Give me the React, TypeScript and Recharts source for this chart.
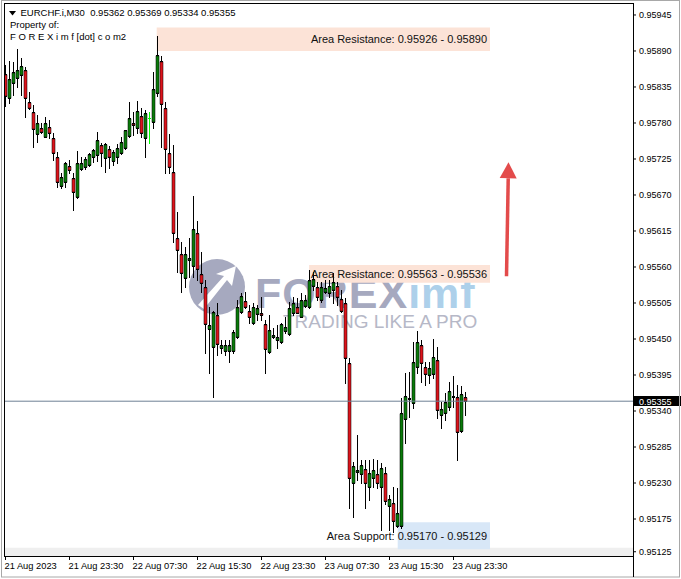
import React from "react";
import {
  ComposedChart,
  Bar,
  XAxis,
  YAxis,
  ReferenceArea,
  ReferenceLine,
} from "recharts";

const FONT = '"Liberation Sans", Arial, sans-serif';

// EURCHF M30, one entry per bar, oldest first (21 Aug 15:30 -> 24 Aug 01:00)
const opens = [
  0.95855, 0.95818, 0.95841, 0.95849, 0.95853, 0.95861, 0.95812, 0.95797, 0.95763, 0.95772,
  0.95759, 0.95774, 0.95757, 0.95728, 0.95684, 0.9569, 0.95714, 0.95696, 0.95667, 0.9571,
  0.95713, 0.95716, 0.95728, 0.95731, 0.95746, 0.95726, 0.9574, 0.95722, 0.95728, 0.95734,
  0.95742, 0.9576, 0.9578, 0.95772, 0.95791, 0.95757, 0.95788, 0.95781, 0.95826, 0.95875,
  0.95803, 0.95734, 0.95705, 0.95604, 0.9558, 0.95543, 0.95571, 0.95562, 0.95612, 0.95549,
  0.95529, 0.95465, 0.95438, 0.95487, 0.95436, 0.95432, 0.95432, 0.95432, 0.95453, 0.95491,
  0.95508, 0.95493, 0.95474, 0.95488, 0.9549, 0.95473, 0.9543, 0.95453, 0.95448, 0.95445,
  0.95462, 0.95458, 0.9549, 0.95499, 0.95484, 0.955, 0.95499, 0.95531, 0.95529, 0.9551,
  0.95522, 0.9552, 0.95525, 0.95531, 0.95511, 0.95505, 0.95413, 0.9523, 0.95247, 0.95244,
  0.95251, 0.95224, 0.95237, 0.95244, 0.95224, 0.95245, 0.95195, 0.95199, 0.95164, 0.95164,
  0.95328, 0.95358, 0.95352, 0.95407, 0.95441, 0.95407, 0.95395, 0.95396, 0.95418, 0.95334,
  0.95337, 0.95346, 0.95361, 0.95361, 0.95309, 0.95362,
];

const highs = [
  0.95869, 0.95875, 0.95873, 0.95893, 0.95879, 0.95866, 0.95827, 0.95807, 0.95792, 0.9578,
  0.95789, 0.95785, 0.95765, 0.95736, 0.95704, 0.9572, 0.95723, 0.95704, 0.95737, 0.95728,
  0.95728, 0.95734, 0.9574, 0.95766, 0.95749, 0.95749, 0.95745, 0.95739, 0.95748, 0.95759,
  0.9577, 0.95812, 0.95797, 0.95814, 0.95803, 0.958, 0.95797, 0.95858, 0.95913, 0.95882,
  0.95812, 0.95763, 0.95746, 0.95644, 0.95598, 0.95591, 0.95604, 0.95668, 0.9563, 0.95583,
  0.9554, 0.95499, 0.95493, 0.95505, 0.95448, 0.95448, 0.95448, 0.95464, 0.9551, 0.9552,
  0.95522, 0.95502, 0.95505, 0.95502, 0.95514, 0.95479, 0.95487, 0.95467, 0.95471, 0.95474,
  0.95484, 0.95506, 0.95514, 0.95513, 0.9552, 0.95517, 0.95555, 0.95553, 0.95537, 0.95537,
  0.9554, 0.9554, 0.95551, 0.95537, 0.95525, 0.95513, 0.95421, 0.95262, 0.95303, 0.95265,
  0.95265, 0.95265, 0.95266, 0.95265, 0.9526, 0.95254, 0.95211, 0.95224, 0.95222, 0.9536,
  0.95398, 0.954, 0.95445, 0.95462, 0.95448, 0.95415, 0.95415, 0.9545, 0.95438, 0.95354,
  0.95367, 0.95384, 0.95393, 0.9538, 0.95378, 0.95369,
];

const lows = [
  0.95806, 0.95811, 0.95823, 0.95835, 0.95823, 0.95789, 0.95802, 0.95743, 0.95751, 0.95765,
  0.95758, 0.95757, 0.95723, 0.95682, 0.95681, 0.95682, 0.95704, 0.95647, 0.95666, 0.95708,
  0.9571, 0.95714, 0.9572, 0.95722, 0.95714, 0.95705, 0.95711, 0.95716, 0.95719, 0.95733,
  0.9574, 0.95759, 0.95762, 0.95765, 0.95759, 0.95728, 0.95749, 0.95772, 0.95821, 0.95743,
  0.95704, 0.95704, 0.95598, 0.95552, 0.95522, 0.95529, 0.95545, 0.95545, 0.9554, 0.95522,
  0.95429, 0.95398, 0.95361, 0.95425, 0.95429, 0.95425, 0.95415, 0.95429, 0.95451, 0.9549,
  0.95497, 0.95474, 0.95473, 0.95479, 0.95479, 0.95398, 0.95429, 0.95451, 0.95436, 0.95444,
  0.95459, 0.95456, 0.95487, 0.95489, 0.95483, 0.95499, 0.95498, 0.95525, 0.9551, 0.95506,
  0.9552, 0.95514, 0.95505, 0.95502, 0.95491, 0.95383, 0.95192, 0.95178, 0.95234, 0.9523,
  0.95192, 0.95204, 0.95224, 0.95222, 0.95158, 0.95198, 0.95158, 0.95155, 0.95163, 0.95161,
  0.95291, 0.95331, 0.95345, 0.95398, 0.95384, 0.9538, 0.95383, 0.9539, 0.95329, 0.95314,
  0.95326, 0.95341, 0.95346, 0.95265, 0.95308, 0.95334,
];

const closes = [
  0.95821, 0.95847, 0.95858, 0.95861, 0.95867, 0.95818, 0.95803, 0.95771, 0.9578, 0.95766,
  0.9578, 0.95765, 0.95734, 0.9569, 0.95697, 0.95719, 0.95708, 0.95675, 0.95719, 0.95719,
  0.95725, 0.95733, 0.95739, 0.95754, 0.95734, 0.95748, 0.95728, 0.95736, 0.95742, 0.95751,
  0.95769, 0.95788, 0.95777, 0.95798, 0.95765, 0.95795, 0.95788, 0.95832, 0.95884, 0.95809,
  0.9574, 0.95713, 0.95612, 0.95586, 0.95551, 0.9558, 0.95574, 0.95618, 0.95557, 0.95536,
  0.95473, 0.95471, 0.95491, 0.95442, 0.95441, 0.95441, 0.95441, 0.95461, 0.95499, 0.95516,
  0.95499, 0.95484, 0.95499, 0.95497, 0.95487, 0.95435, 0.95464, 0.95456, 0.95453, 0.95473,
  0.95468, 0.95497, 0.95505, 0.9549, 0.9551, 0.9551, 0.9554, 0.95542, 0.95514, 0.95529,
  0.95528, 0.95531, 0.95537, 0.95514, 0.95493, 0.95421, 0.95237, 0.95256, 0.9525, 0.95257,
  0.9523, 0.95245, 0.9525, 0.9523, 0.95253, 0.95202, 0.95205, 0.95172, 0.95184, 0.95337,
  0.95363, 0.9536, 0.95415, 0.95445, 0.95413, 0.95396, 0.95406, 0.95422, 0.95341, 0.95343,
  0.95354, 0.9537, 0.95363, 0.95308, 0.95366, 0.95355,
];

const xTicks = [0, 16, 32, 48, 64, 80, 96, 112];
const xTickLabels = [
  "21 Aug 2023",
  "21 Aug 23:30",
  "22 Aug 07:30",
  "22 Aug 15:30",
  "22 Aug 23:30",
  "23 Aug 07:30",
  "23 Aug 15:30",
  "23 Aug 23:30",
];
const yTicks = [
  0.95945, 0.9589, 0.95835, 0.9578, 0.95725, 0.9567, 0.95615, 0.9556,
  0.95505, 0.9545, 0.95395, 0.9534, 0.95285, 0.9523, 0.95175, 0.95125,
];

const headerLine = "EURCHF.i,M30  0.95362 0.95369 0.95334 0.95355";
const lastPrice = 0.95355;

// zones: [top, bottom] price, and the bar index where the box starts
const resistanceHigh = [0.95926, 0.9589];
const resistanceLow = [0.95563, 0.95536];
const support = [0.9517, 0.95129];
const zoneStarts = [37.8, 75.9, 98.05];
const zoneEnd = 121.125;

const arrowFrom = { x: 125.25, y: 0.95546 };
const arrowTo = { x: 125.75, y: 0.9572 };

const X_DOMAIN: [number, number] = [-0.375, 156.875];
const Y_DOMAIN: [number, number] = [0.951185, 0.959633];

const data = opens.map((o, i) => ({
  i,
  o,
  h: highs[i],
  l: lows[i],
  c: closes[i],
  range: [lows[i], highs[i]],
}));

const zoneText = (name: string, z: number[]) =>
  `${name}: ${z[0].toFixed(5)} - ${z[1].toFixed(5)}`;

function Candle(props: any) {
  const { x, y, width, height, payload } = props;
  if (x == null || !payload) return null;
  const { o, h, l, c } = payload;
  const top = Math.min(y, y + height);
  const span = Math.abs(height);
  const py = (v: number) => Math.round(top + ((h - v) / (h - l)) * span);
  const cx = Math.round(x + width / 2 - 0.5);
  const yh = py(h);
  const yl = py(l);
  if (o === c) {
    const yo = py(o);
    return (
      <g>
        <rect x={cx} y={yh} width={1} height={yl - yh + 1} fill="#00ff00" />
        <rect x={cx - 1} y={yo} width={3} height={1} fill="#00ff00" />
      </g>
    );
  }
  const bull = c > o;
  const bt = py(Math.max(o, c));
  const bb = py(Math.min(o, c));
  return (
    <g>
      <rect x={cx} y={yh} width={1} height={yl - yh + 1} fill="#000" />
      <rect x={cx - 1} y={bt} width={3} height={bb - bt + 1} fill="#000" />
      {bb - bt > 1 && (
        <rect
          x={cx - 1}
          y={bt + 1}
          width={3}
          height={bb - bt - 1}
          fill={bull ? "#0a7a0a" : "#dc141c"}
        />
      )}
      {bb - bt > 1 && (
        <rect x={cx - 1} y={bt + 1} width={3} height={bb - bt - 1} fill="none" stroke="#000" strokeWidth={0.6} strokeOpacity={0.85} />
      )}
    </g>
  );
}

function XTick(props: any) {
  const { x, y, payload } = props;
  const k = xTicks.indexOf(payload.value);
  return (
    <text x={x - 1} y={y + 6.5} fontSize={9.3} fontFamily={FONT} fill="#000" textAnchor="start">
      {xTickLabels[k]}
    </text>
  );
}

function YTick(props: any) {
  const { x, y, payload } = props;
  return (
    <text x={x + 1} y={y + 3.3} fontSize={9} fontFamily={FONT} fill="#000" textAnchor="start">
      {Number(payload.value).toFixed(5)}
    </text>
  );
}

function PriceTag(props: any) {
  const vb = props.viewBox;
  if (!vb) return null;
  const yy = Math.round(vb.y);
  const x0 = vb.x + vb.width + 1;
  return (
    <g>
      <rect x={x0} y={yy - 5} width={48} height={10} fill="#000" />
      <text x={x0 + 5} y={yy + 3.5} fill="#fff" fontSize={9} fontFamily={FONT}>
        {lastPrice.toFixed(5)}
      </text>
    </g>
  );
}

function Arrow(props: any) {
  const { x1, y1, x2, y2 } = props;
  if (x1 == null) return null;
  const dx = x2 - x1;
  const dy = y2 - y1;
  const len = Math.sqrt(dx * dx + dy * dy);
  const ux = dx / len;
  const uy = dy / len;
  const bx = x2 - ux * 16;
  const by = y2 - uy * 16;
  const col = "#e34b4b";
  return (
    <g>
      <line x1={x1} y1={y1} x2={bx} y2={by} stroke={col} strokeWidth={3.5} />
      <polygon
        points={`${x2},${y2} ${bx - uy * 8.5},${by + ux * 8.5} ${bx + uy * 8.5},${by - ux * 8.5}`}
        fill={col}
      />
    </g>
  );
}

export default function App() {
  const zoneLabel = (value: string) => ({
    value,
    position: "insideRight" as const,
    offset: 3,
    fontSize: 11,
    fontFamily: FONT,
    fill: "#111",
  });

  return (
    <div
      style={{
        position: "absolute",
        left: 0,
        top: 0,
        width: 681,
        height: 579,
        background: "#fff",
        overflow: "hidden",
        fontFamily: FONT,
      }}
    >
      {/* watermark */}
      <svg width={681} height={579} style={{ position: "absolute", left: 0, top: 0 }}>
        <circle cx={217} cy={287} r={28} fill="#a6a9bf" />
        <path d="M198 305 L224 276 L216 274 L236 266 L232 286 L227 280 L204 309 Z" fill="#fff" />
        <text x={255} y={308} fontSize={43} fontWeight="bold" fontFamily={FONT} fill="#a6a9bf" letterSpacing={1}>
          FOREX<tspan fill="#add0ea">imf</tspan>
        </text>
        <text x={283} y={328} fontSize={19} fontFamily={FONT} fill="#b6b8c7">
          TRADING LIKE A PRO
        </text>
      </svg>

      <div style={{ position: "absolute", left: 0, top: 0 }}>
        <ComposedChart
          width={681}
          height={579}
          data={data}
          margin={{ top: 3, right: 0, bottom: 0, left: 4 }}
        >
          <XAxis
            dataKey="i"
            type="number"
            domain={X_DOMAIN}
            allowDataOverflow
            ticks={xTicks}
            interval={0}
            height={23}
            tickSize={4}
            axisLine={false}
            tickLine={{ stroke: "#000" }}
            tick={<XTick />}
          />
          <YAxis
            orientation="right"
            type="number"
            domain={Y_DOMAIN}
            allowDataOverflow
            ticks={yTicks}
            interval={0}
            width={48}
            tickSize={3}
            axisLine={false}
            tickLine={{ stroke: "#000" }}
            tick={<YTick />}
          />
          <ReferenceArea
            x1={X_DOMAIN[0]}
            x2={X_DOMAIN[1]}
            y1={Y_DOMAIN[0]}
            y2={0.95131}
            fill="#efefef"
            fillOpacity={1}
            stroke="none"
          />
          <ReferenceArea
            x1={zoneStarts[0]}
            x2={zoneEnd}
            y1={resistanceHigh[1]}
            y2={resistanceHigh[0]}
            fill="#fce3d7"
            fillOpacity={1}
            stroke="none"
          />
          <ReferenceArea
            x1={zoneStarts[1]}
            x2={zoneEnd}
            y1={resistanceLow[1]}
            y2={resistanceLow[0]}
            fill="#fce3d7"
            fillOpacity={1}
            stroke="none"
          />
          <ReferenceArea
            x1={zoneStarts[2]}
            x2={zoneEnd}
            y1={support[1]}
            y2={support[0]}
            fill="#d8e7f7"
            fillOpacity={1}
            stroke="none"
          />
          <ReferenceLine y={lastPrice} stroke="#6d8094" strokeWidth={1} label={(p: any) => <PriceTag {...p} />} />
          <Bar
            dataKey="range"
            barSize={3}
            isAnimationActive={false}
            shape={(p: any) => <Candle {...p} />}
          />
          <ReferenceArea
            x1={zoneStarts[0]}
            x2={zoneEnd}
            y1={resistanceHigh[1]}
            y2={resistanceHigh[0]}
            fill="none"
            stroke="none"
            label={zoneLabel(zoneText("Area Resistance", resistanceHigh))}
          />
          <ReferenceArea
            x1={zoneStarts[1]}
            x2={zoneEnd}
            y1={resistanceLow[1]}
            y2={resistanceLow[0]}
            fill="none"
            stroke="none"
            label={zoneLabel(zoneText("Area Resistance", resistanceLow))}
          />
          <ReferenceArea
            x1={zoneStarts[2]}
            x2={zoneEnd}
            y1={support[1]}
            y2={support[0]}
            fill="none"
            stroke="none"
            label={zoneLabel(zoneText("Area Support", support))}
          />
          <ReferenceLine
            segment={[arrowFrom, arrowTo]}
            stroke="#e34b4b"
            shape={(p: any) => <Arrow {...p} />}
          />
        </ComposedChart>
      </div>

      {/* frames and header */}
      <svg
        width={681}
        height={579}
        style={{ position: "absolute", left: 0, top: 0, pointerEvents: "none" }}
      >
        <rect x={1.5} y={0.5} width={678} height={576.5} fill="none" stroke="#a8a8a8" />
        <rect x={4.5} y={3.5} width={629} height={553} fill="none" stroke="#000" />
        <line x1={633.5} y1={556} x2={633.5} y2={577} stroke="#000" />
        <polygon points="9,11 16,11 12.5,15.5" fill="#000" />
        <text x={20.5} y={16} fontSize={9.5} fontFamily={FONT} fill="#000" style={{ whiteSpace: "pre" }}>
          {headerLine}
        </text>
        <text x={10} y={28.3} fontSize={9.5} fontFamily={FONT} fill="#000">
          Property of:
        </text>
        <text x={10} y={40} fontSize={9.5} fontFamily={FONT} fill="#000">
          F O R E X i m f [dot] c o m2
        </text>
      </svg>
    </div>
  );
}
